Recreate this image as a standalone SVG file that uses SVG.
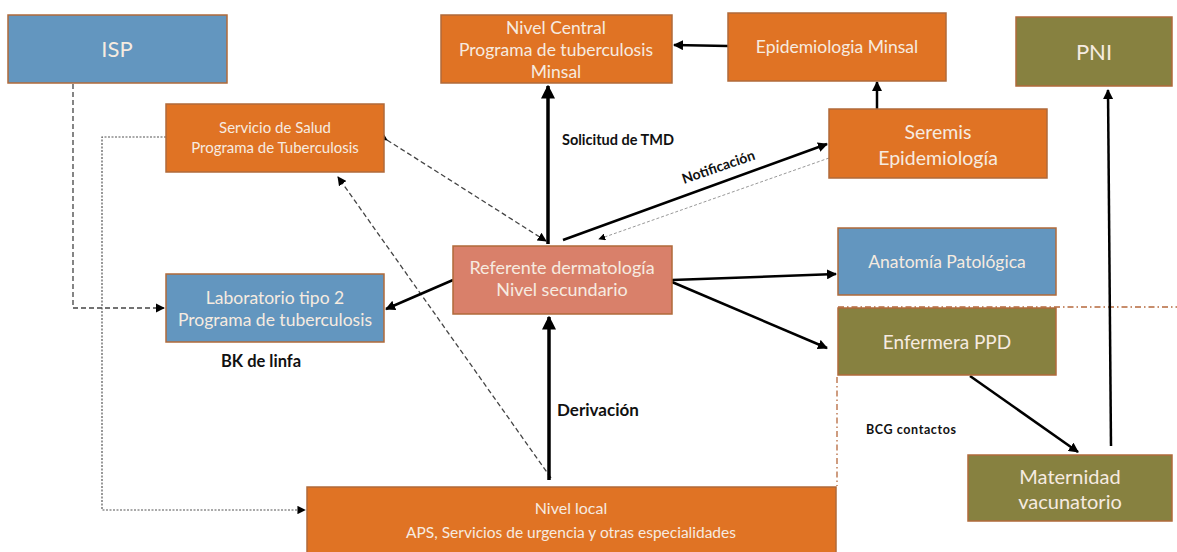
<svg xmlns="http://www.w3.org/2000/svg" width="1177" height="552" viewBox="0 0 1177 552">
<style>
.n{stroke:#b06a3a;stroke-width:1.5}
.blue{fill:#6396bf}
.orange{fill:#e07324}
.salmon{fill:#d9806a}
.olive{fill:#878140}
.t{font-family:"Lato","Liberation Sans",sans-serif;fill:#f6ebe0;text-anchor:middle}
.lbl{font-family:"Lato","Liberation Sans",sans-serif;fill:#111;font-weight:bold}
.thick{stroke:#000;stroke-width:3.5;fill:none}
.med{stroke:#000;stroke-width:2.5;fill:none}
.dash{stroke:#444;stroke-width:1.3;fill:none;stroke-dasharray:5 3}
.dot{stroke:#555;stroke-width:1.2;fill:none;stroke-dasharray:2 1.5}
.thin{stroke:#999;stroke-width:1;fill:none;stroke-dasharray:3 2}
.dd{stroke:#b5683c;stroke-width:1.3;fill:none;stroke-dasharray:6 3 1.5 3}
</style>
<defs>
<marker id="ab" viewBox="0 0 10 10" refX="9" refY="5" markerWidth="4" markerHeight="4" orient="auto" markerUnits="strokeWidth"><path d="M0,0 L10,5 L0,10 z" fill="#000"/></marker>
<marker id="as" viewBox="0 0 10 10" refX="9" refY="5" markerWidth="7" markerHeight="7" orient="auto" markerUnits="strokeWidth"><path d="M0,0 L10,5 L0,10 z" fill="#000"/></marker>
</defs>
<rect width="1177" height="552" fill="#fff"/>
<g id="connectors">
<path class="dd" d="M838,307 H1177"/>
<path class="dd" d="M837,377 V486"/>
<path class="dash" d="M73,84 V308 H164" marker-end="url(#as)" stroke-dasharray="3 2.5"/>
<path class="dot" d="M166,137 H102 V510 H305" marker-end="url(#as)"/>
<path class="dash" d="M387,140 L546,241" marker-end="url(#as)" marker-start="url(#as)" stroke-dasharray="5 3 1 3"/>
<path class="dash" d="M551,478 L338,177" marker-end="url(#as)"/>
<path class="thick" d="M548,244 V86" marker-end="url(#ab)"/>
<path class="thick" d="M549,480 V317" marker-end="url(#ab)"/>
<path class="med" d="M563,240 L827,144" marker-end="url(#ab)"/>
<path class="thin" d="M829,158 L599,239" marker-end="url(#as)"/>
<path class="med" d="M728,46 L674,45" marker-end="url(#ab)"/>
<path class="med" d="M877,109 V82" marker-end="url(#ab)"/>
<path class="med" d="M453,280 L386,309" marker-end="url(#ab)"/>
<path class="med" d="M672,280 L836,274" marker-end="url(#ab)"/>
<path class="med" d="M672,282 L827,348" marker-end="url(#ab)"/>
<path class="med" d="M970,376 L1078,452" marker-end="url(#ab)"/>
<path class="med" d="M1111,446 L1108,90" marker-end="url(#ab)"/>
</g>
<g id="labels">
<text class="lbl" x="562" y="145" font-size="14.5">Solicitud de TMD</text>
<text class="lbl" x="557" y="416" font-size="17">Derivación</text>
<text class="lbl" x="221" y="367" font-size="16.5">BK de linfa</text>
<text class="lbl" x="866" y="434" font-size="12.5" letter-spacing="0.6">BCG contactos</text>
<text class="lbl" x="0" y="0" font-size="14" transform="translate(684,184) rotate(-19)">Notificación</text>
</g>
<g id="isp"><rect class="n blue" x="8" y="15" width="219" height="68"/><text class="t" x="117" y="57" font-size="22">ISP</text></g>
<g id="servicio"><rect class="n orange" x="166" y="104" width="218" height="68"/><text class="t" x="275" y="133" font-size="15">Servicio de Salud</text><text class="t" x="275" y="153" font-size="15">Programa de Tuberculosis</text></g>
<g id="nivel-central"><rect class="n orange" x="441" y="15" width="231" height="68"/><text class="t" x="556" y="34" font-size="17.5">Nivel Central</text><text class="t" x="556" y="56" font-size="17.5">Programa de tuberculosis</text><text class="t" x="556" y="78" font-size="17.5">Minsal</text></g>
<g id="epi-minsal"><rect class="n orange" x="728" y="13" width="218" height="68"/><text class="t" x="837" y="53" font-size="17.5">Epidemiologia Minsal</text></g>
<g id="pni"><rect class="n olive" x="1016" y="17" width="156" height="69"/><text class="t" x="1094" y="60" font-size="22">PNI</text></g>
<g id="seremis"><rect class="n orange" x="829" y="109" width="218" height="69"/><text class="t" x="938" y="139" font-size="19.5">Seremis</text><text class="t" x="938" y="165" font-size="19.5">Epidemiología</text></g>
<g id="laboratorio"><rect class="n blue" x="166" y="274" width="218" height="68"/><text class="t" x="275" y="304" font-size="17.5">Laboratorio tipo 2</text><text class="t" x="275" y="326" font-size="17.5">Programa de tuberculosis</text></g>
<g id="referente"><rect class="n salmon" x="453" y="246" width="219" height="68"/><text class="t" x="562" y="274" font-size="18">Referente dermatología</text><text class="t" x="562" y="296" font-size="18">Nivel secundario</text></g>
<g id="anatomia"><rect class="n blue" x="838" y="228" width="218" height="67"/><text class="t" x="947" y="268" font-size="17.5">Anatomía Patológica</text></g>
<g id="enfermera"><rect class="n olive" x="838" y="308" width="218" height="67"/><text class="t" x="947" y="349" font-size="19">Enfermera PPD</text></g>
<g id="maternidad"><rect class="n olive" x="968" y="455" width="204" height="66"/><text class="t" x="1070" y="484" font-size="20">Maternidad</text><text class="t" x="1070" y="509" font-size="20">vacunatorio</text></g>
<g id="nivel-local"><rect class="n orange" x="307" y="487" width="529" height="70"/><text class="t" x="571" y="514" font-size="16">Nivel local</text><text class="t" x="571" y="538" font-size="15.5">APS, Servicios de urgencia y otras especialidades</text></g>
</svg>
